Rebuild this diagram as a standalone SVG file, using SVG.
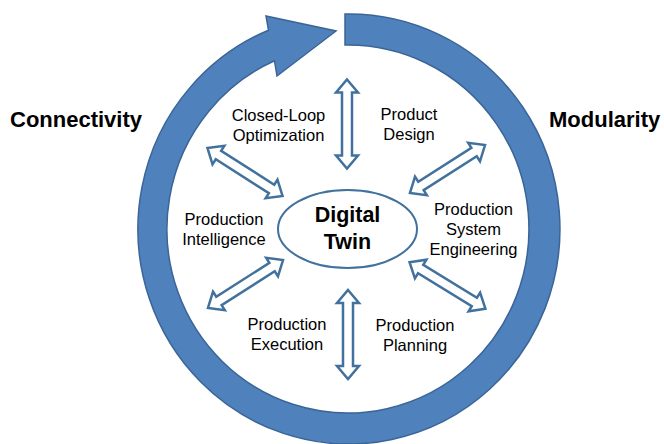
<svg xmlns="http://www.w3.org/2000/svg" width="664" height="444" viewBox="0 0 664 444">
<style>
.lbl{font-family:"Liberation Sans",Arial,sans-serif;font-size:16.5px;fill:#000;text-anchor:middle}
.big{font-family:"Liberation Sans",Arial,sans-serif;font-size:22px;font-weight:bold;fill:#000}
.core{font-family:"Liberation Sans",Arial,sans-serif;font-size:21.5px;font-weight:bold;fill:#000;text-anchor:middle}
.dbl{fill:#fff;stroke:#41719c;stroke-width:2.5;stroke-linejoin:miter}
</style>
<defs>
<path id="dblArrow" class="dbl" d="M -44.5 0 L -31.5 -11 L -31.5 -5 L 31.5 -5 L 31.5 -11 L 44.5 0 L 31.5 11 L 31.5 5 L -31.5 5 L -31.5 11 Z"/>
</defs>
<rect width="664" height="444" fill="#fff"/>
<g id="cycle">
<path d="M 345 14 A 211 215 0 1 1 268.5 30.2 L 266 16 L 336 31 L 277 76 L 274.5 60.8 A 181 184 0 1 0 345 45 Z" fill="#4f81bd" stroke="#3a6596" stroke-width="1.5" stroke-linejoin="miter"/>
</g>
<g id="connectors">
<use href="#dblArrow" transform="translate(347,124) rotate(90)"/>
<use href="#dblArrow" transform="translate(348,334.5) rotate(90)"/>
<use href="#dblArrow" transform="translate(245,172) rotate(32.5)"/>
<use href="#dblArrow" transform="translate(447.5,169) rotate(-32.5)"/>
<use href="#dblArrow" transform="translate(245.5,284) rotate(-32.5)"/>
<use href="#dblArrow" transform="translate(447.5,285.5) rotate(31.5)"/>
</g>
<g id="digital-twin">
<ellipse cx="347.5" cy="229" rx="69.5" ry="39" fill="#fff" stroke="#41719c" stroke-width="2"/>
<text class="core" x="347.5" y="222">Digital</text>
<text class="core" x="347.5" y="249">Twin</text>
</g>
<g id="connectivity"><text class="big" x="10" y="127">Connectivity</text></g>
<g id="modularity"><text class="big" x="549" y="127">Modularity</text></g>
<g id="closed-loop"><text class="lbl" x="278.5" y="121">Closed-Loop</text><text class="lbl" x="278.5" y="141">Optimization</text></g>
<g id="product-design"><text class="lbl" x="409" y="120">Product</text><text class="lbl" x="409" y="140">Design</text></g>
<g id="production-intelligence"><text class="lbl" x="224" y="225">Production</text><text class="lbl" x="224" y="245">Intelligence</text></g>
<g id="production-system-engineering"><text class="lbl" x="473.5" y="215">Production</text><text class="lbl" x="473.5" y="235">System</text><text class="lbl" x="473.5" y="255">Engineering</text></g>
<g id="production-execution"><text class="lbl" x="287" y="330">Production</text><text class="lbl" x="287" y="350">Execution</text></g>
<g id="production-planning"><text class="lbl" x="415" y="331">Production</text><text class="lbl" x="415" y="351">Planning</text></g>
</svg>
